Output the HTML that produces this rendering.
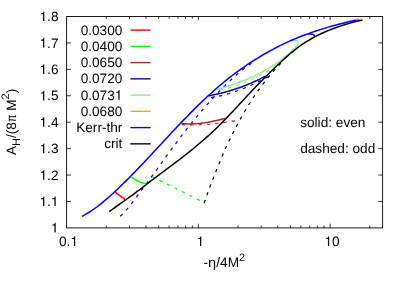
<!DOCTYPE html>
<html><head><meta charset="utf-8">
<style>
html,body{margin:0;padding:0;background:#fff;}
body{width:407px;height:285px;overflow:hidden;}
svg{display:block;font-family:"Liberation Sans",sans-serif;will-change:transform;opacity:0.999;text-rendering:geometricPrecision;}
</style></head><body>
<svg width="407" height="285" viewBox="0 0 407 285">
<rect width="407" height="285" fill="#fff"/>
<!-- frame -->
<g fill="none" stroke="#000" stroke-width="0.9">
<rect x="66.6" y="16.5" width="316" height="211.4"/>
<!-- ticks -->
<path d="M66.6 42.92h4.3M382.6 42.92h-4.3M66.6 69.35h4.3M382.6 69.35h-4.3M66.6 95.78h4.3M382.6 95.78h-4.3M66.6 122.20h4.3M382.6 122.20h-4.3M66.6 148.62h4.3M382.6 148.62h-4.3M66.6 175.05h4.3M382.6 175.05h-4.3M66.6 201.47h4.3M382.6 201.47h-4.3M106.26 227.9v-2.3M106.26 16.5v2.3M129.46 227.9v-2.3M129.46 16.5v2.3M145.92 227.9v-2.3M145.92 16.5v2.3M158.69 227.9v-2.3M158.69 16.5v2.3M169.12 227.9v-2.3M169.12 16.5v2.3M177.94 227.9v-2.3M177.94 16.5v2.3M185.58 227.9v-2.3M185.58 16.5v2.3M192.32 227.9v-2.3M192.32 16.5v2.3M238.01 227.9v-2.3M238.01 16.5v2.3M261.21 227.9v-2.3M261.21 16.5v2.3M277.67 227.9v-2.3M277.67 16.5v2.3M290.44 227.9v-2.3M290.44 16.5v2.3M300.87 227.9v-2.3M300.87 16.5v2.3M309.69 227.9v-2.3M309.69 16.5v2.3M317.33 227.9v-2.3M317.33 16.5v2.3M324.07 227.9v-2.3M324.07 16.5v2.3M369.76 227.9v-2.3M369.76 16.5v2.3M198.35 227.9v-4.2M198.35 16.5v3.6M330.10 227.9v-4.2M330.10 16.5v3.6" stroke-width="0.8"/>
</g>
<!-- tick labels -->
<g font-size="13.65" fill="#000" text-anchor="end">
<text x="58.5" y="21.10">.8</text>
<path transform="translate(39.53,21.10) scale(0.01365,-0.01365)" d="M259 0V505H102V568C222 572 283 617 299 709H349V0Z" fill="#000"/>
<text x="58.5" y="47.52">.7</text>
<path transform="translate(39.53,47.52) scale(0.01365,-0.01365)" d="M259 0V505H102V568C222 572 283 617 299 709H349V0Z" fill="#000"/>
<text x="58.5" y="73.95">.6</text>
<path transform="translate(39.53,73.95) scale(0.01365,-0.01365)" d="M259 0V505H102V568C222 572 283 617 299 709H349V0Z" fill="#000"/>
<text x="58.5" y="100.38">.5</text>
<path transform="translate(39.53,100.38) scale(0.01365,-0.01365)" d="M259 0V505H102V568C222 572 283 617 299 709H349V0Z" fill="#000"/>
<text x="58.5" y="126.80">.4</text>
<path transform="translate(39.53,126.80) scale(0.01365,-0.01365)" d="M259 0V505H102V568C222 572 283 617 299 709H349V0Z" fill="#000"/>
<text x="58.5" y="153.22">.3</text>
<path transform="translate(39.53,153.22) scale(0.01365,-0.01365)" d="M259 0V505H102V568C222 572 283 617 299 709H349V0Z" fill="#000"/>
<text x="58.5" y="179.65">.2</text>
<path transform="translate(39.53,179.65) scale(0.01365,-0.01365)" d="M259 0V505H102V568C222 572 283 617 299 709H349V0Z" fill="#000"/>
<text x="50.91" y="206.07">.</text>
<path transform="translate(50.91,206.07) scale(0.01365,-0.01365)" d="M259 0V505H102V568C222 572 283 617 299 709H349V0Z" fill="#000"/>
<path transform="translate(39.53,206.07) scale(0.01365,-0.01365)" d="M259 0V505H102V568C222 572 283 617 299 709H349V0Z" fill="#000"/>
<path transform="translate(50.91,232.50) scale(0.01365,-0.01365)" d="M259 0V505H102V568C222 572 283 617 299 709H349V0Z" fill="#000"/>
</g>
<g font-size="13.65" fill="#000">
<text x="59.01" y="246">0.</text>
<path transform="translate(70.40,246.00) scale(0.01365,-0.01365)" d="M259 0V505H102V568C222 572 283 617 299 709H349V0Z" fill="#000"/>
<path transform="translate(196.51,246.00) scale(0.01365,-0.01365)" d="M259 0V505H102V568C222 572 283 617 299 709H349V0Z" fill="#000"/>
<path transform="translate(324.41,246.00) scale(0.01365,-0.01365)" d="M259 0V505H102V568C222 572 283 617 299 709H349V0Z" fill="#000"/>
<text x="332.00" y="246">0</text>
</g>
<!-- axis labels -->
<g font-size="13.65" fill="#000">
<text x="203.6" y="267.3">-</text>
<text x="208.1" y="267.3" textLength="8.1" lengthAdjust="spacingAndGlyphs">η</text>
<text x="216.3" y="267.3">/4M</text>
<text x="238.9" y="260.6" font-size="10.9">2</text>
</g>
<g transform="translate(16.3,155) rotate(-90)" font-size="13.65" fill="#000">
<text x="0" y="0">A</text>
<text x="9.1" y="3.6" font-size="10.9">H</text>
<text x="17" y="0">/(8</text>
<text x="32.9" y="0" textLength="7.5" lengthAdjust="spacingAndGlyphs">π</text>
<text x="44.2" y="0">M</text>
<text x="55.6" y="-6.9" font-size="10.9">2</text>
<text x="61.7" y="0">)</text>
</g>
<!-- legend -->
<g font-size="13.65" fill="#000" text-anchor="end">
<text x="122.4" y="34.65">0.0300</text>
<text x="122.4" y="50.90">0.0400</text>
<text x="122.4" y="67.15">0.0650</text>
<text x="122.4" y="83.40">0.0720</text>
<text x="114.81" y="99.65">0.073</text>
<path transform="translate(114.81,99.65) scale(0.01365,-0.01365)" d="M259 0V505H102V568C222 572 283 617 299 709H349V0Z" fill="#000"/>
<text x="122.4" y="115.90">0.0680</text>
<text x="122.4" y="132.15">Kerr-thr</text>
<text x="122.4" y="148.40">crit</text>
</g>
<g fill="none" stroke-width="1.4">
<path d="M130.4 30.10H150.6" stroke="#ff0000"/>
<path d="M130.4 46.35H150.6" stroke="#00ff00"/>
<path d="M130.4 62.60H150.6" stroke="#a52a2a"/>
<path d="M130.4 78.85H150.6" stroke="#0a0a96"/>
<path d="M130.4 95.10H150.6" stroke="#90ee90"/>
<path d="M130.4 111.35H150.6" stroke="#ffa500"/>
<path d="M130.4 127.60H150.6" stroke="#0000ff"/>
<path d="M130.4 143.85H150.6" stroke="#000"/>
</g>
<g font-size="13.65" fill="#000">
<text x="300.2" y="126.6">solid: even</text>
<text x="300.2" y="153">dashed: odd</text>
</g>
<!-- curves -->
<g fill="none" stroke-width="1.5" stroke-linejoin="round" stroke-linecap="butt">
<path d="M204.1 203.1L205.2 199.9L206.3 196.8L207.5 193.6L208.6 190.5L209.8 187.3L211.0 184.1L212.2 181.0L213.4 177.8L214.6 174.7L215.9 171.6L217.1 168.4L218.4 165.3L219.7 162.2L221.0 159.0L222.3 155.9L223.7 152.8L225.0 149.7L226.4 146.6L227.9 143.6L229.3 140.5L230.8 137.5L232.2 134.4L233.8 131.4L235.3 128.4L236.9 125.4L238.4 122.4L240.1 119.4L241.7 116.5L243.4 113.6L245.1 110.7L246.8 107.8L248.6 104.9L250.4 102.1L252.2 99.2L254.1 96.4L256.0 93.6L257.9 90.9L259.9 88.2L261.9 85.5L263.9 82.8L266.0 80.1L268.1 77.5L270.3 74.9L272.5 72.3L274.7 69.8L277.0 67.3L279.3 64.8L281.7 62.4L284.1 60.0" stroke="#000" stroke-width="1.2" stroke-dasharray="3.3 5.0"/>
<path d="M152.2 176.7L203.5 202.3" stroke="#00ff00" stroke-width="1.2" stroke-dasharray="3.3 5.0"/>
<path d="M120.2 216.3L122.4 214.2L124.5 212.1L126.5 209.8L128.4 207.5L130.3 205.2L132.2 202.8L134.0 200.5L135.8 198.1L137.6 195.6L139.4 193.2L141.1 190.8L142.9 188.4L144.7 186.0L146.5 183.6L148.3 181.2L150.1 178.8L151.8 176.3L153.6 173.9L155.4 171.5L157.1 169.1L158.9 166.6L160.7 164.2L162.4 161.7L164.2 159.3L165.9 156.9L167.7 154.4L169.5 152.0L171.2 149.6L173.0 147.1L174.8 144.7L176.6 142.3L178.4 139.9L180.2 137.5L182.0 135.1L183.8 132.7L185.7 130.3L187.5 128.0L189.4 125.6L191.3 123.3L193.2 120.9L195.1 118.6L197.0 116.3L198.9 114.0L200.9 111.7L202.8 109.5L204.8 107.2L206.8 105.0L208.8 102.7L210.8 100.5L212.8 98.3L214.9 96.1L217.0 93.9L219.0 91.7L221.1 89.5L223.2 87.4L225.3 85.3L227.5 83.2L229.7 81.1L231.8 79.0L234.1 77.0L236.3 75.0L238.6 73.0L240.9 71.1L243.2 69.2L245.6 67.4L248.0 65.6L250.4 63.9L252.9 62.2L255.5 60.6" stroke="#0000ff" stroke-width="1.2" stroke-dasharray="3.3 5.0"/>
<path d="M182.0 124.6L185.0 124.8L188.0 124.8L191.0 124.9L194.1 124.9L197.1 124.8L200.1 124.7L203.1 124.5L206.1 124.3L209.1 124.1L212.1 123.8L215.1 123.5L218.1 123.2L221.1 122.8L224.1 122.5L227.1 122.1L230.1 121.7L233.0 121.2L236.0 120.8L239.0 120.4" stroke="#a52a2a" stroke-width="1.2" stroke-dasharray="3.3 5.0"/>
<path d="M210.9 97.7L213.6 97.2L216.2 96.7L218.8 96.2L221.4 95.6L224.0 94.9L226.6 94.2L229.1 93.5L231.7 92.7L234.2 91.9L236.7 91.0L239.2 90.1L241.7 89.2L244.2 88.2L246.6 87.2L249.1 86.1L251.5 85.0L253.9 83.9L256.3 82.8L258.7 81.6L261.1 80.4L263.5 79.2L265.8 78.0L268.2 76.7L270.5 75.4" stroke="#0a0a96" stroke-width="1.2" stroke-dasharray="3.3 5.0"/>
<path d="M220.0 90.4L222.5 89.7L225.0 89.1L227.5 88.4L230.0 87.7L232.4 87.0L234.9 86.2L237.3 85.3L239.8 84.5L242.2 83.6L244.6 82.6L247.0 81.7L249.4 80.6L251.7 79.6L254.1 78.5L256.4 77.3L258.7 76.1L260.9 74.9L263.2 73.6L265.4 72.3L267.5 70.9L269.7 69.5L271.8 68.1L273.9 66.5L276.0 65.0" stroke="#90ee90" stroke-width="1.2" stroke-dasharray="3.3 5.0"/>
<path d="M216.8 89.5L219.7 88.7L222.7 87.9L225.6 87.0L228.5 86.1L231.4 85.1L234.3 84.1L237.2 83.1L240.1 82.0L242.9 80.9L245.8 79.8L248.6 78.6L251.4 77.3L254.2 76.1L256.9 74.7L259.7 73.3L262.4 71.9L265.0 70.4L267.7 68.9L270.3 67.3L272.9 65.7L275.4 64.0L277.9 62.3L280.4 60.5L282.8 58.6L285.2 56.7L287.5 54.7L289.8 52.7L292.1 50.6L294.3 48.5" stroke="#90ee90"/>
<path d="M294.3 48.5L294.6 48.3L295.2 47.8L296.1 46.9L296.9 45.8L297.7 44.7L298.3 43.5L298.4 42.4L298.1 41.5L297.2 40.9L296.2 40.5L295.1 40.3L294.1 40.2L293.0 40.2L292.0 40.4" stroke="#90ee90"/>
<path d="M109.2 211.6L112.1 209.5L115.1 207.4L118.0 205.3L121.0 203.2L123.9 201.1L126.9 199.0L129.8 196.9L132.8 194.8L135.6 192.7L138.5 190.5L141.4 188.3L144.2 186.1L147.1 183.9L149.9 181.7L152.8 179.5L155.7 177.3L158.6 175.2L161.5 173.0L164.4 170.8L167.3 168.7L170.2 166.5L173.1 164.3L176.0 162.1L178.8 160.0L181.7 157.8L184.6 155.5L187.4 153.3L190.2 151.1L193.1 148.8L195.8 146.5L198.6 144.2L201.4 141.8L204.1 139.5L206.8 137.1L209.5 134.7L212.1 132.2L214.8 129.7L217.4 127.2L219.9 124.7L222.5 122.1L225.0 119.5L227.5 116.9L230.0 114.3L232.5 111.7L235.0 109.1L237.4 106.4L239.9 103.8L242.4 101.1L244.8 98.5L247.3 95.8L249.8 93.2L252.2 90.6L254.7 87.9L257.2 85.3L259.8 82.7L262.3 80.2L264.8 77.6L267.4 75.0L269.9 72.5L272.5 70.0L275.1 67.5L277.7 65.0L280.4 62.5L283.0 60.0L285.7 57.6L288.4 55.2L291.1 52.8L293.9 50.6L296.8 48.3L299.7 46.2L302.6 44.1L305.6 42.2L308.7 40.3L311.8 38.5L315.0 36.7L318.2 35.1L321.5 33.5L324.8 32.0L328.1 30.6L331.5 29.3L334.9 28.0L338.3 26.7L341.7 25.6L345.2 24.5L348.6 23.5L352.1 22.5L355.6 21.5L359.1 20.7L362.6 19.9" stroke="#000"/>
<path d="M82.0 216.4L85.1 214.7L88.1 212.9L91.1 211.0L94.0 209.0L96.8 207.0L99.6 204.9L102.3 202.7L105.0 200.4L107.7 198.2L110.3 195.8L112.9 193.5L115.4 191.1L118.0 188.7L120.5 186.3L123.0 183.8L125.5 181.4L128.0 178.9L130.4 176.4L132.9 173.9L135.3 171.4L137.7 168.9L140.2 166.4L142.6 163.9L145.0 161.3L147.4 158.8L149.8 156.2L152.1 153.7L154.5 151.1L156.9 148.5L159.3 146.0L161.7 143.4L164.0 140.8L166.4 138.3L168.8 135.7L171.2 133.1L173.6 130.6L176.0 128.0L178.4 125.5L180.8 122.9L183.3 120.4L185.7 117.9L188.1 115.4L190.6 112.9L193.1 110.4L195.6 107.9L198.1 105.4L200.6 103.0L203.1 100.6L205.6 98.2L208.2 95.8L210.8 93.5L213.4 91.1L216.0 88.8L218.6 86.5L221.3 84.3L224.0 82.0L226.7 79.8L229.4 77.7L232.2 75.5L234.9 73.4L237.8 71.3L240.6 69.3L243.5 67.3L246.3 65.3L249.2 63.4L252.2 61.5L255.1 59.6L258.1 57.8L261.1 56.0L264.1 54.2L267.2 52.5L270.2 50.8L273.3 49.1L276.4 47.5L279.5 45.9L282.7 44.4L285.9 42.9L289.0 41.4L292.2 40.0L295.4 38.6L298.7 37.3L301.9 36.0L305.2 34.8L308.5 33.6L311.8 32.4L315.1 31.3L318.4 30.2L321.8 29.1L325.1 28.1L328.5 27.1L331.8 26.1L335.2 25.2L338.6 24.3L342.0 23.4L345.4 22.5L348.8 21.7L352.2 20.9L355.6 20.1L359.0 19.3" stroke="#0000ff"/>
<path d="M114.5 191.8L125.6 199.8" stroke="#ff0000"/>
<path d="M130.9 176.6L132.4 177.8L134.0 178.9L135.7 179.9L137.4 180.8L139.1 181.6L140.9 182.4L142.8 183.0L144.6 183.6L146.5 184.0" stroke="#00ff00"/>
<path d="M180.6 123.6L183.0 123.7L185.4 123.8L187.8 123.9L190.2 123.9L192.6 123.8L195.0 123.7L197.4 123.6L199.8 123.4L202.2 123.1L204.6 122.8L207.0 122.4L209.3 122.1L211.7 121.6L214.0 121.1L216.4 120.6L218.7 120.0L221.0 119.4L223.4 118.8L225.7 118.1" stroke="#a52a2a"/>
<path d="M208.3 95.9L211.4 95.3L214.6 94.6L217.7 93.9L220.8 93.2L223.9 92.4L227.0 91.6L230.0 90.7L233.1 89.7L236.1 88.8L239.2 87.7L242.2 86.7L245.2 85.5L248.1 84.3L251.1 83.1L254.0 81.8L256.9 80.5L259.8 79.1L262.6 77.6L265.5 76.1" stroke="#0a0a96"/>
<path d="M307.9 33.7L308.9 33.8L310.0 33.9L311.1 34.0L312.1 34.2L313.1 34.5L314.0 35.1L314.7 35.9" stroke="#0a0a96"/>
<path d="M355.5 19.5L362.4 19.0" stroke="#ffa500" stroke-width="1.1"/>
</g>
</svg>
</body></html>
